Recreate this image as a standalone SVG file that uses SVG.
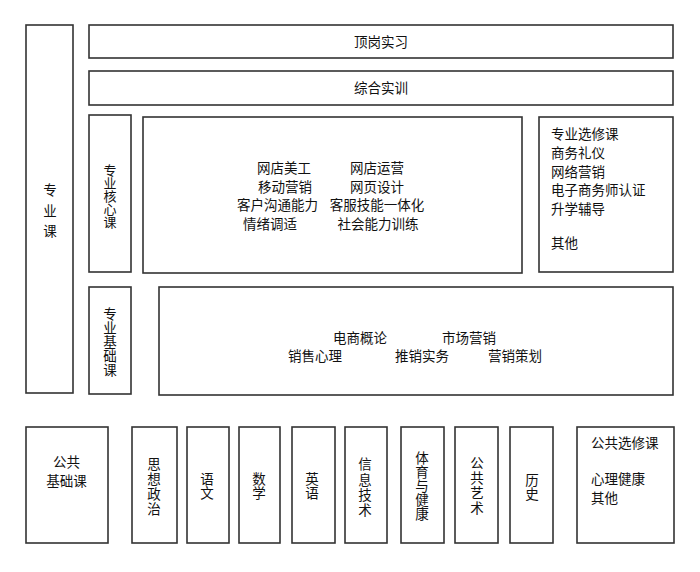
<svg xmlns="http://www.w3.org/2000/svg" width="700" height="572" viewBox="0 0 700 572">
<style>
rect.b{fill:#fff;stroke:#333;stroke-width:1.6}
text{font-family:"Noto Sans CJK SC","Noto Sans",sans-serif;font-size:13.5px;fill:#111;dominant-baseline:central}
.m{text-anchor:middle}
.v{writing-mode:vertical-rl;text-anchor:middle}
</style>
<rect width="700" height="572" fill="#fff"/>
<g id="zyk"><rect class="b" x="26" y="25" width="47" height="368"/><text class="v" x="50" y="214" style="letter-spacing:7px">专业课</text></g>
<g id="dgsx"><rect class="b" x="89" y="25" width="584" height="33"/><text x="354" y="41">顶岗实习</text></g>
<g id="zhsx"><rect class="b" x="89" y="71" width="584" height="34"/><text x="354" y="87">综合实训</text></g>
<g id="zyhxk"><rect class="b" x="89" y="115" width="42" height="157"/><text class="v" x="110" y="196" style="font-size:13px">专业核心课</text></g>
<g id="hxnr"><rect class="b" x="143" y="117" width="379" height="156"/>
<text><tspan x="257" y="167">网店美工</tspan><tspan x="258" y="185.5">移动营销</tspan><tspan x="237" y="204">客户沟通能力</tspan><tspan x="243" y="222.5">情绪调适</tspan></text>
<text class="m"><tspan x="377" y="167">网店运营</tspan><tspan x="377" y="185.5">网页设计</tspan><tspan x="377" y="204">客服技能一体化</tspan><tspan x="378" y="222.5">社会能力训练</tspan></text></g>
<g id="zyxxk"><rect class="b" x="539" y="117" width="134" height="155"/>
<text><tspan x="551" y="133">专业选修课</tspan><tspan x="551" y="152">商务礼仪</tspan><tspan x="551" y="170.5">网络营销</tspan><tspan x="551" y="189">电子商务师认证</tspan><tspan x="551" y="207.5">升学辅导</tspan><tspan x="551" y="242">其他</tspan></text></g>
<g id="zyjck"><rect class="b" x="89" y="287" width="42" height="107"/><text class="v" x="110" y="342" style="letter-spacing:0.5px">专业基础课</text></g>
<g id="jcnr"><rect class="b" x="159" y="287" width="514" height="108"/>
<text><tspan x="333" y="337">电商概论</tspan><tspan x="442" y="337">市场营销</tspan><tspan x="288" y="355">销售心理</tspan><tspan x="395" y="355">推销实务</tspan><tspan x="488" y="355">营销策划</tspan></text></g>
<g id="ggjck"><rect class="b" x="26" y="427" width="82" height="116"/><text class="m"><tspan x="66.5" y="460.5">公共</tspan><tspan x="66.5" y="479.5">基础课</tspan></text></g>
<g id="sxzz"><rect class="b" x="132" y="427" width="45" height="116"/><text class="v" x="154" y="487" style="letter-spacing:1.5px">思想政治</text></g>
<g id="yw"><rect class="b" x="187" y="427" width="42" height="116"/><text class="v" x="207" y="486" style="letter-spacing:0.5px">语文</text></g>
<g id="sx"><rect class="b" x="239" y="427" width="41" height="116"/><text class="v" x="259" y="486" style="letter-spacing:0.5px">数学</text></g>
<g id="yy"><rect class="b" x="292" y="427" width="43" height="116"/><text class="v" x="312" y="486" style="letter-spacing:0.5px">英语</text></g>
<g id="xxjs"><rect class="b" x="345" y="427" width="42" height="116"/><text class="v" x="365" y="488" style="letter-spacing:1.8px">信息技术</text></g>
<g id="tyyjk"><rect class="b" x="401" y="427" width="43" height="116"/><text class="v" x="422" y="486" style="letter-spacing:0.5px">体育与健康</text></g>
<g id="ggys"><rect class="b" x="455" y="427" width="43" height="116"/><text class="v" x="477" y="486" style="letter-spacing:1.5px">公共艺术</text></g>
<g id="ls"><rect class="b" x="510" y="427" width="43" height="116"/><text class="v" x="532" y="487" style="letter-spacing:0.5px">历史</text></g>
<g id="ggxxk"><rect class="b" x="577" y="427" width="97" height="116"/><text><tspan x="591" y="442">公共选修课</tspan><tspan x="591" y="478">心理健康</tspan><tspan x="591" y="497">其他</tspan></text></g>
<g id="connectors"/>
</svg>
